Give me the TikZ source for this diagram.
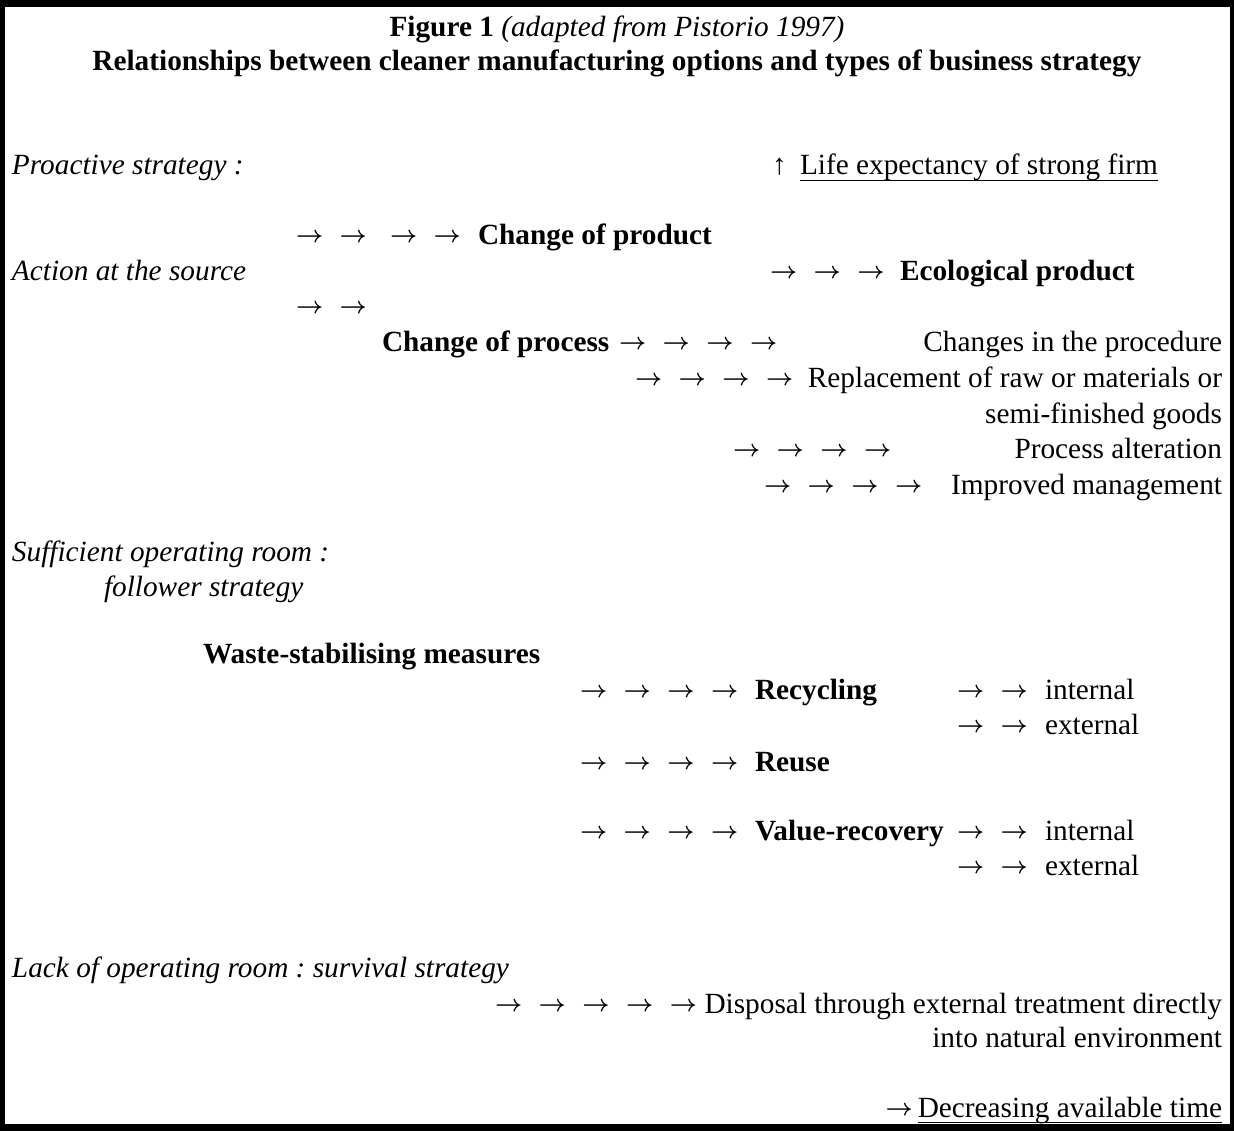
\documentclass[tikz,border=0pt]{standalone}
\usepackage{fontspec}
\usepackage{graphicx}
\setmainfont{Liberation Serif}
\frenchspacing
\newcommand{\onearrow}{\raisebox{2pt}{\scalebox{0.95}{\boldmath$\rightarrow$}}}
\newcommand{\ar}{\makebox[43.7pt][l]{\onearrow}}
\begin{document}
\begin{tikzpicture}[x=1pt,y=-1pt,
  txt/.style={inner sep=0pt,outer sep=0pt,anchor=base west,font=\fontsize{29.3}{35.5}\selectfont\frenchspacing},
  rtxt/.style={txt,anchor=base east},
  ctxt/.style={txt,anchor=base},
  it/.style={txt,font=\fontsize{29.3}{35.5}\selectfont\frenchspacing\itshape},
  bf/.style={txt,font=\fontsize{29.3}{35.5}\selectfont\frenchspacing\bfseries},
  uline/.style={line width=1.3pt}]
\useasboundingbox (0,0) rectangle (1234,1131);
\fill[black] (0,0) rectangle (1234,1131);
\fill[white] (5,7) rectangle (1230,1124);
% title
\node[ctxt] (t1) at (617,37) {\textbf{Figure 1} \textit{(adapted from Pistorio 1997)}};
\node[ctxt,font=\fontsize{29.3}{35.5}\selectfont\bfseries] (t2) at (617,71) {Relationships between cleaner manufacturing options and types of business strategy};
% proactive
\node[it] (pro) at (12,175) {Proactive strategy :};
\node[txt] (up) at (772,175) {↑};
\node[txt] (life) at (800,175) {Life expectancy of strong firm};
\draw[uline] ([yshift=-5.5pt]life.base west) -- ([yshift=-5.5pt]life.base east);
% change of product
\node[txt] (a1) at (296,245) {\ar\ar};
\node[txt] (a2) at (390,245) {\ar\ar};
\node[bf] (cprod) at (478,245) {Change of product};
\node[it] (act) at (12,281) {Action at the source};
\node[txt] (a3) at (770,281) {\ar\ar\ar};
\node[bf] (eco) at (900,281) {Ecological product};
\node[txt] (a4) at (296,316) {\ar\ar};
\node[bf] (cproc) at (382,352) {Change of process};
\node[txt] (a5) at (619,352) {\ar\ar\ar\ar};
\node[rtxt] (chg) at (1222,352) {Changes in the procedure};
\node[txt] (a6) at (635,388) {\ar\ar\ar\ar};
\node[rtxt] (repl) at (1222,388) {Replacement of raw or materials or};
\node[rtxt] (semi) at (1222,423) {semi-finished goods};
\node[txt] (a7) at (733,458) {\ar\ar\ar\ar};
\node[rtxt] (palt) at (1222,458) {Process alteration};
\node[txt] (a8) at (764,494) {\ar\ar\ar\ar};
\node[rtxt] (impr) at (1222,494) {Improved management};
% follower
\node[it] (suf) at (12,561) {Sufficient operating room :};
\node[it] (fol) at (104,596) {follower strategy};
\node[bf] (waste) at (203,663) {Waste-stabilising measures};
\node[txt] (a9) at (580,699) {\ar\ar\ar\ar};
\node[bf] (rec) at (755,699) {Recycling};
\node[txt] (a10) at (957,699) {\ar\ar};
\node[txt] (int1) at (1045,699) {internal};
\node[txt] (a11) at (957,734) {\ar\ar};
\node[txt] (ext1) at (1045,734) {external};
\node[txt] (a12) at (580,771) {\ar\ar\ar\ar};
\node[bf] (reuse) at (755,771) {Reuse};
\node[txt] (a13) at (580,840) {\ar\ar\ar\ar};
\node[bf] (val) at (755,840) {Value-recovery};
\node[txt] (a14) at (957,840) {\ar\ar};
\node[txt] (int2) at (1045,840) {internal};
\node[txt] (a15) at (957,875) {\ar\ar};
\node[txt] (ext2) at (1045,875) {external};
% survival
\node[it] (lack) at (12,977) {Lack of operating room : survival strategy};
\node[txt] (a16) at (495,1013) {\ar\ar\ar\ar\ar};
\node[rtxt] (disp) at (1222,1013) {Disposal through external treatment directly};
\node[rtxt] (nat) at (1222,1047) {into natural environment};
\node[rtxt] (dec) at (1222,1117) {Decreasing available time};
\node[txt,anchor=base east] (a17) at ([xshift=-5pt]dec.base west) {\onearrow};
\draw[uline] ([yshift=-5.5pt]dec.base west) -- ([yshift=-5.5pt]dec.base east);
\end{tikzpicture}
\end{document}
